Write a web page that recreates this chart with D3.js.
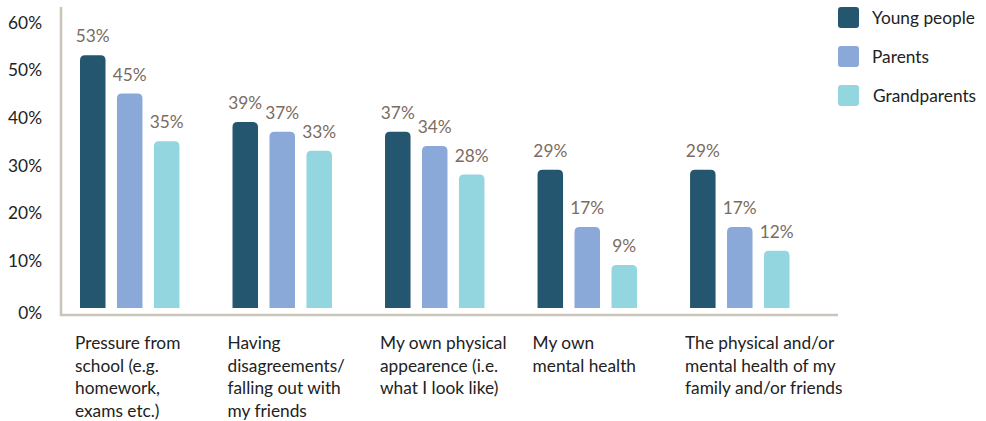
<!DOCTYPE html>
<html>
<head>
<meta charset="utf-8">
<script src="https://cdn.jsdelivr.net/npm/d3@7"></script>
<style>
  body { margin: 0; background: #fff; }
  text { font-family: Lato, "Open Sans", sans-serif; }
</style>
</head>
<body>
<script>
// chart values
const categories = ['pressure', 'disagreements', 'appearance', 'mentalHealth', 'familyHealth'];
const categoryLines = [
    ['Pressure from', 'school (e.g.', 'homework,', 'exams etc.)'],
    ['Having', 'disagreements/', 'falling out with', 'my friends'],
    ['My own physical', 'appearence (i.e.', 'what I look like)'],
    ['My own', 'mental health'],
    ['The physical and/or', 'mental health of my', 'family and/or friends'],
];
const seriesNames = ['Young people', 'Parents', 'Grandparents'];
const youngPeople = [53, 39, 37, 29, 29];
const parents = [45, 37, 34, 17, 17];
const grandparents = [35, 33, 28, 9, 12];
const yTicks = [0, 10, 20, 30, 40, 50, 60];

const colors = ['#25566f', '#8aa9d8', '#93d6df'];

const width = 986, height = 421;
const axisX = 61, axisY = 315;
const fontSize = 17.3;

const rows = categories.map((c, i) => ({
    key: c,
    lines: categoryLines[i],
    values: [youngPeople[i], parents[i], grandparents[i]],
}));

const svg = d3.select('body')
    .append('svg')
    .attr('width', width)
    .attr('height', height);

const x0 = d3.scaleBand()
    .domain(categories)
    .range([80, 789.5])
    .paddingInner(0.348)
    .paddingOuter(0);

const x1 = d3.scaleBand()
    .domain(seriesNames)
    .range([0, x0.bandwidth()])
    .paddingInner(0.31)
    .paddingOuter(0);

const y = d3.scaleLinear()
    .domain([0, 60])
    .range([308, 22]);

// frame lines
svg.append('path')
    .attr('d', `M${axisX},7 V${axisY} H838`)
    .attr('fill', 'none')
    .attr('stroke', '#c9c5b8')
    .attr('stroke-width', 2.6);

// y axis labels
const yAxis = d3.axisLeft(y)
    .tickValues(yTicks)
    .tickSize(0)
    .tickPadding(0)
    .tickFormat(d => d + '%');
const yAxisGroup = svg.append('g')
    .attr('transform', `translate(42, 0)`)
    .call(yAxis);
yAxisGroup.select('.domain').remove();
yAxisGroup.selectAll('text')
    .attr('font-family', 'Lato, "Open Sans", sans-serif')
    .attr('font-size', fontSize)
    .attr('fill', '#222')
    .attr('dy', (d) => d === 0 ? '0.6em' : '0.35em');

function topRounded(x, yTop, w, yBottom, r) {
    r = Math.min(r, (yBottom - yTop) / 2, w / 2);
    return `M${x},${yBottom} V${yTop + r} Q${x},${yTop} ${x + r},${yTop} ` +
        `H${x + w - r} Q${x + w},${yTop} ${x + w},${yTop + r} V${yBottom} Z`;
}

const groups = svg.append('g')
    .selectAll('g')
    .data(rows)
    .join('g')
    .attr('transform', d => `translate(${x0(d.key)}, 0)`);

const bars = groups.selectAll('g.bar')
    .data(d => d.values.map((v, i) => ({ series: seriesNames[i], value: v, i })))
    .join('g')
    .attr('class', 'bar');

bars.append('path')
    .attr('d', d => topRounded(x1(d.series), y(d.value), x1.bandwidth(), y(0), 5))
    .attr('fill', d => colors[d.i]);

bars.append('text')
    .attr('x', d => x1(d.series) + x1.bandwidth() / 2)
    .attr('y', d => y(d.value) - 13)
    .attr('text-anchor', 'middle')
    .attr('font-size', fontSize)
    .attr('fill', '#7b6b61')
    .text(d => d.value + '%');

// category labels
groups.append('text')
    .attr('x', -5)
    .attr('y', 349)
    .attr('font-size', fontSize)
    .attr('fill', '#222')
    .selectAll('tspan')
    .data(d => d.lines)
    .join('tspan')
    .attr('x', -5)
    .attr('dy', (d, i) => i === 0 ? 0 : 22.6)
    .text(d => d);

// legend
const legend = svg.append('g')
    .attr('transform', 'translate(838, 7)')
    .selectAll('g')
    .data(seriesNames)
    .join('g')
    .attr('transform', (d, i) => `translate(0, ${i * 39})`);

legend.append('rect')
    .attr('width', 21)
    .attr('height', 21)
    .attr('rx', 3)
    .attr('fill', (d, i) => colors[i]);

legend.append('text')
    .attr('x', (d, i) => i === 2 ? 35 : 34)
    .attr('y', 11)
    .attr('dy', '0.35em')
    .attr('font-size', fontSize)
    .attr('fill', '#222')
    .text(d => d);
</script>
</body>
</html>
